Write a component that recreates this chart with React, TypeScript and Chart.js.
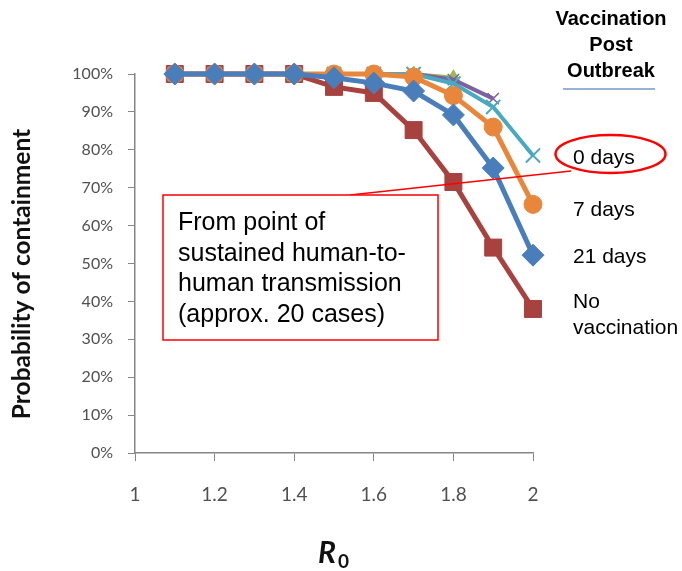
import React, { useEffect, useRef } from 'react';
import { Chart, registerables } from 'chart.js';

Chart.register(...registerables);

const r0Values = [1.1, 1.2, 1.3, 1.4, 1.5, 1.6, 1.7, 1.8, 1.9, 2.0];
const days0 = [100, 100, 100, 100, 100, 100, 100, 97.5, 91.3, 78.5];
const days7 = [100, 100, 100, 100, 100, 100, 99.2, 94.3, 86, 65.6];
const days21 = [100, 100, 100, 100, 99, 97.6, 95.5, 89.2, 75.2, 52.2];
const noVaccination = [100, 100, 100, 100, 96.6, 95, 85.2, 71.5, 54.2, 38];
const otherSeriesA = [100, 100, 100, 100, 100, 100, 100, 98.5, 93.5, null];
const otherSeriesB = [100, 100, 100, 100, 100, 100, 100, 99, null, null];

const xTicks = [1, 1.2, 1.4, 1.6, 1.8, 2];
const legendTitle = ['Vaccination', 'Post', 'Outbreak'];
const seriesLabels = ['0 days', '7 days', '21 days', 'No', 'vaccination'];
const noteLines = ['From point of', 'sustained human-to-', 'human transmission', '(approx. 20 cases)'];
const yTitle = 'Probability of containment';

const toPoints = (vals: (number | null)[]) => r0Values.map((x, i) => ({ x, y: vals[i] }));

const annotations = {
  id: 'annotations',
  afterDraw(chart: any) {
    const ctx = chart.ctx as CanvasRenderingContext2D;
    ctx.save();

    // Y axis title, sized to span the same length as in the reference
    ctx.save();
    ctx.translate(22, 274);
    ctx.rotate(-Math.PI / 2);
    ctx.font = 'bold 20px Lato';
    const w = ctx.measureText(yTitle).width;
    const size = (20 * 290) / w;
    ctx.font = `bold ${size.toFixed(1)}px Lato`;
    ctx.fillStyle = '#111';
    ctx.textAlign = 'center';
    ctx.textBaseline = 'middle';
    ctx.fillText(yTitle, 0, 0);
    ctx.restore();

    // X axis title R0
    ctx.fillStyle = '#111';
    ctx.textBaseline = 'alphabetic';
    ctx.textAlign = 'left';
    ctx.font = 'bold italic 30px Lato';
    ctx.fillText('R', 318, 563);
    ctx.font = 'bold 19px Lato';
    ctx.fillText('0', 338, 568);

    // Legend title
    ctx.fillStyle = '#000';
    ctx.font = 'bold 20px "Liberation Sans"';
    ctx.textAlign = 'center';
    ctx.textBaseline = 'middle';
    legendTitle.forEach((t, i) => ctx.fillText(t, 611, 19 + i * 26));
    ctx.strokeStyle = '#95b3d7';
    ctx.lineWidth = 2;
    ctx.beginPath();
    ctx.moveTo(563, 89);
    ctx.lineTo(655, 89);
    ctx.stroke();

    // Series labels
    ctx.font = '21px "Liberation Sans"';
    ctx.textAlign = 'left';
    ctx.fillStyle = '#000';
    const labelY = [158, 210, 257, 302, 328];
    seriesLabels.forEach((t, i) => ctx.fillText(t, 573, labelY[i]));

    // Ellipse around 0 days
    ctx.strokeStyle = '#ff0000';
    ctx.lineWidth = 2.5;
    ctx.beginPath();
    ctx.ellipse(610.5, 154, 55, 19, 0, 0, Math.PI * 2);
    ctx.stroke();

    // Connector line
    ctx.lineWidth = 1.3;
    ctx.beginPath();
    ctx.moveTo(350, 195);
    ctx.lineTo(571, 171);
    ctx.stroke();

    // Note box
    ctx.fillStyle = '#fff';
    ctx.fillRect(163, 195, 275, 145);
    ctx.lineWidth = 1.5;
    ctx.strokeRect(163, 195, 275, 145);
    ctx.fillStyle = '#000';
    ctx.font = '25px "Liberation Sans"';
    ctx.textAlign = 'left';
    ctx.textBaseline = 'middle';
    noteLines.forEach((t, i) => ctx.fillText(t, 178, 223 + i * 30.7));

    ctx.restore();
  },
};

export default function App() {
  const canvasRef = useRef<HTMLCanvasElement | null>(null);

  useEffect(() => {
    if (!canvasRef.current) return;
    const axisColor = '#868686';
    const chart = new Chart(canvasRef.current, {
      type: 'line',
      data: {
        datasets: [
          {
            label: '21 days',
            data: toPoints(days21),
            borderColor: '#4a7ebb',
            backgroundColor: '#4a7ebb',
            borderWidth: 5,
            pointStyle: 'rectRot',
            pointRadius: 11,
            pointBorderWidth: 1,
            clip: false,
          },
          {
            label: '7 days',
            data: toPoints(days7),
            borderColor: '#e8873c',
            backgroundColor: '#e8873c',
            borderWidth: 5,
            pointStyle: 'circle',
            pointRadius: 9,
            pointBorderWidth: 1,
            clip: false,
          },
          {
            label: '0 days',
            data: toPoints(days0),
            borderColor: '#4aa8c0',
            backgroundColor: '#4aa8c0',
            borderWidth: 4,
            pointStyle: 'crossRot',
            pointRadius: 10,
            pointBorderWidth: 2,
            clip: false,
          },
          {
            label: 'No vaccination',
            data: toPoints(noVaccination),
            borderColor: '#a8423f',
            backgroundColor: '#a8423f',
            borderWidth: 5,
            pointStyle: 'rect',
            pointRadius: 12,
            pointBorderWidth: 1,
            clip: false,
          },
          {
            label: 'A',
            data: toPoints(otherSeriesA),
            borderColor: '#7d60a0',
            backgroundColor: '#7d60a0',
            borderWidth: 4,
            pointStyle: 'crossRot',
            pointRadius: 8,
            pointBorderWidth: 1.5,
            clip: false,
          },
          {
            label: 'B',
            data: toPoints(otherSeriesB),
            borderColor: '#98b954',
            backgroundColor: '#98b954',
            borderWidth: 4,
            pointStyle: 'triangle',
            pointRadius: 8,
            pointBorderWidth: 1,
            clip: false,
          },
        ],
      },
      options: {
        responsive: false,
        animation: false,
        devicePixelRatio: 1,
        layout: { padding: { left: 0, top: 74, right: 149, bottom: 0 } },
        plugins: { legend: { display: false }, tooltip: { enabled: false }, title: { display: false } },
        elements: { line: { tension: 0 } },
        scales: {
          x: {
            type: 'linear',
            min: 1,
            max: 2,
            afterBuildTicks: (scale: any) => {
              scale.ticks = xTicks.map((v) => ({ value: v }));
            },
            afterFit: (scale: any) => {
              scale.height = 118;
            },
            grid: { drawOnChartArea: false, drawTicks: true, tickLength: 8, color: axisColor },
            border: { color: axisColor, width: 1.5 },
            ticks: {
              padding: 22,
              color: '#505050',
              font: { family: 'Lato', size: 19 },
              callback: (v: any) => String(Number(Number(v).toFixed(1))),
              maxRotation: 0,
            },
          },
          y: {
            min: 0,
            max: 100,
            afterFit: (scale: any) => {
              scale.width = 135;
            },
            grid: { drawOnChartArea: false, drawTicks: true, tickLength: 7, color: axisColor },
            border: { color: axisColor, width: 1.5 },
            ticks: {
              stepSize: 10,
              padding: 15,
              color: '#505050',
              font: { family: 'Lato', size: 16 },
              callback: (v: any) => `${v}%`,
            },
          },
        },
      },
      plugins: [annotations],
    } as any);
    return () => chart.destroy();
  }, []);

  return (
    <div style={{ position: 'absolute', left: 0, top: 0, width: 682, height: 571, background: '#fff' }}>
      <canvas ref={canvasRef} width={682} height={571} style={{ width: 682, height: 571, display: 'block' }} />
    </div>
  );
}
